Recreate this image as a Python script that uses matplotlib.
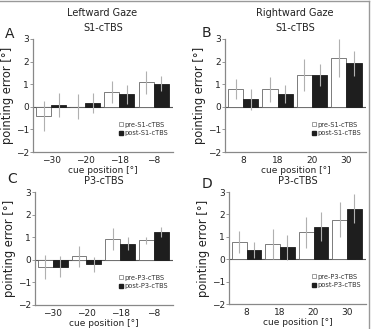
import matplotlib
matplotlib.use("Agg")
import matplotlib.pyplot as plt
import numpy as np
from matplotlib.lines import Line2D

left_cues = ["\u221230", "\u221220", "\u221218", "\u22128"]
right_cues = ["8", "18", "20", "30"]

# panel A: Leftward, S1-cTBS
A_pre = [-0.40, 0.00, 0.65, 1.08]
A_pre_err = [0.65, 0.55, 0.47, 0.50]
A_post = [0.08, 0.17, 0.55, 1.02]
A_post_err = [0.55, 0.45, 0.43, 0.33]
# panel B: Rightward, S1-cTBS
B_pre = [0.78, 0.77, 1.42, 2.15]
B_pre_err = [0.45, 0.55, 0.70, 0.85]
B_post = [0.33, 0.57, 1.40, 1.92]
B_post_err = [0.45, 0.40, 0.50, 0.55]
# panel C: Leftward, P3-cTBS
C_pre = [-0.32, 0.15, 0.92, 0.87]
C_pre_err = [0.52, 0.45, 0.50, 0.15]
C_post = [-0.30, -0.20, 0.72, 1.22]
C_post_err = [0.48, 0.33, 0.28, 0.22]
# panel D: Rightward, P3-cTBS
D_pre = [0.77, 0.68, 1.20, 1.77]
D_pre_err = [0.48, 0.67, 0.68, 0.80]
D_post = [0.42, 0.53, 1.45, 2.25]
D_post_err = [0.35, 0.55, 0.65, 0.65]

W, H = 372, 329
fig = plt.figure(figsize=(W / 100, H / 100), dpi=100)
plt.rcParams['font.family'] = ['DejaVu Sans']

def rect(l, r, t, b):
    return [l / W, 1 - b / H, (r - l) / W, (b - t) / H]

panels = [
    ("A", (5, 38), rect(33, 173, 39, 152), left_cues, A_pre, A_pre_err, A_post, A_post_err, "S1-cTBS"),
    ("B", (202, 37), rect(225, 366, 39, 152), right_cues, B_pre, B_pre_err, B_post, B_post_err, "S1-cTBS"),
    ("C", (7, 183), rect(35, 173, 192, 305), left_cues, C_pre, C_pre_err, C_post, C_post_err, "P3-cTBS"),
    ("D", (202, 188), rect(229, 366, 192, 304), right_cues, D_pre, D_pre_err, D_post, D_post_err, "P3-cTBS"),
]

spine_c = "#888888"
bw = 0.44
for letter, lpos, pos, cues, pre, pre_e, post, post_e, cond in panels:
    ax = fig.add_axes(pos)
    x = np.arange(len(cues))
    ax.axhline(0, color="#555555", lw=0.8, zorder=1)
    ax.bar(x - bw / 2, pre, bw, color="white", edgecolor="#666666", lw=0.6, zorder=2)
    ax.bar(x + bw / 2, post, bw, color="#1e1e1e", edgecolor="#1e1e1e", lw=0.6, zorder=2)
    ax.errorbar(x - bw / 2, pre, yerr=pre_e, fmt="none", ecolor="#b0b0b0", elinewidth=0.8, capsize=0, zorder=3)
    ax.errorbar(x + bw / 2, post, yerr=post_e, fmt="none", ecolor="#b0b0b0", elinewidth=0.8, capsize=0, zorder=3)
    ax.set_xlim(-0.53, 3.57)
    ax.set_ylim(-2, 3)
    ax.set_yticks([-2, -1, 0, 1, 2, 3])
    ax.set_yticklabels(["\u22122", "\u22121", "0", "1", "2", "3"])
    ax.set_xticks(x)
    ax.set_xticklabels(cues)
    ax.tick_params(axis="x", length=0, labelsize=6.5, pad=3, colors="#222222")
    ax.tick_params(axis="y", length=2, width=0.6, labelsize=6.5, pad=1, colors="#222222", color=spine_c)
    for s in ("top", "right"):
        ax.spines[s].set_visible(False)
    for s in ("left", "bottom"):
        ax.spines[s].set_color(spine_c)
        ax.spines[s].set_linewidth(0.9)
    ax.set_ylabel("pointing error [\u00b0]", fontsize=8.3, labelpad=1, color="#222222")
    ax.set_xlabel("cue position [\u00b0]", fontsize=6.5, labelpad=0.5, color="#222222")
    ax.set_title(cond, fontsize=7, pad=6, color="#222222")
    handles = [
        Line2D([], [], marker="s", ls="none", markerfacecolor="white", markeredgecolor="#777777", markersize=3, markeredgewidth=0.5),
        Line2D([], [], marker="s", ls="none", markerfacecolor="#1e1e1e", markeredgecolor="#1e1e1e", markersize=3),
    ]
    leg = ax.legend(handles, ["pre-" + cond, "post-" + cond], loc="lower right",
                    bbox_to_anchor=(1.0, 0.1), fontsize=4.8, frameon=False,
                    handlelength=0.6, handletextpad=0.2, labelspacing=0.35, borderpad=0.2)
    for t in leg.get_texts():
        t.set_color("#333333")
    fig.text(lpos[0] / W, 1 - lpos[1] / H, letter, fontsize=10, color="#222222", ha="left", va="baseline")

fig.text(102 / W, 1 - 13 / H, "Leftward Gaze", fontsize=7, ha="center", va="center", color="#222222")
fig.text(295 / W, 1 - 13 / H, "Rightward Gaze", fontsize=7, ha="center", va="center", color="#222222")

# frame lines at top and right
fig.add_artist(Line2D([0, 369 / W], [1 - 1 / H, 1 - 1 / H], transform=fig.transFigure, color="#999999", lw=1))
fig.add_artist(Line2D([369 / W, 369 / W], [0, 1 - 1 / H], transform=fig.transFigure, color="#999999", lw=1))

fig.savefig("out.png", dpi=100)
